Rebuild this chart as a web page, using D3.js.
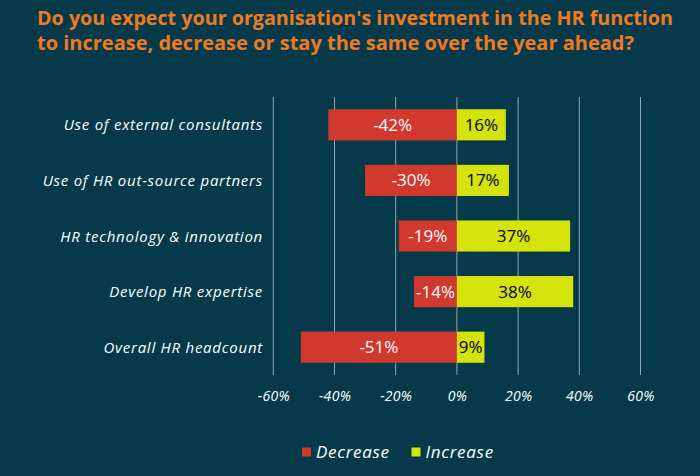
<!DOCTYPE html>
<html><head><meta charset="utf-8">
<script src="https://cdn.jsdelivr.net/npm/d3@7"></script>
<style>
html,body{margin:0;padding:0;background:#063a4b;}
svg{display:block;}
text{font-family:"Open Sans","Noto Sans",sans-serif;}
</style></head>
<body><svg id="c" width="700" height="476"></svg>
<script>
const titleLines = ["Do you expect your organisation's investment in the HR function",
                    "to increase, decrease or stay the same over the year ahead?"];
const categories = ["Use of external consultants","Use of HR out-source partners","HR technology & innovation","Develop HR expertise","Overall HR headcount"];
const decrease = [-42,-30,-19,-14,-51];
const increase = [16,17,37,38,9];
const tickValues = [-60,-40,-20,0,20,40,60];
const seriesNames = ["Decrease","Increase"];
const colors = ["#d2392e","#d5e20c"];

const svg = d3.select("#c");
const bg = "#063a4b";
svg.append("rect").attr("width",700).attr("height",476).attr("fill",bg);

// title
const tl = [636,597];
svg.selectAll(".title").data(titleLines).join("text")
  .attr("x",37).attr("y",(d,i)=>25+i*24.5)
  .attr("fill","#ee7a22").attr("font-weight","bold").attr("font-size",19)
  .attr("textLength",(d,i)=>tl[i]).attr("lengthAdjust","spacingAndGlyphs")
  .text(d=>d);

const x = d3.scaleLinear().domain([-60,60]).range([273.3,640.5]);
const y = d3.scaleBand().domain(categories).range([97,375]).paddingInner(0.44).paddingOuter(0.22);

// gridlines
svg.append("g").selectAll("line").data(tickValues).join("line")
  .attr("x1",d=>x(d)).attr("x2",d=>x(d)).attr("y1",97).attr("y2",375)
  .attr("stroke","#8fa9b3").attr("stroke-width",1);

// axis labels
const ax = svg.append("g").attr("transform","translate(0,401)")
  .call(d3.axisBottom(x).tickValues(tickValues).tickSize(0).tickFormat(d=>d+"%"));
ax.select(".domain").remove();
ax.selectAll("text").attr("dy",0).attr("y",0).attr("fill","#ffffff")
  .attr("font-size",14).attr("font-style","italic").attr("letter-spacing",0.3)
  .attr("font-family","'Open Sans','Noto Sans',sans-serif");

// category labels
svg.append("g").selectAll("text").data(categories).join("text")
  .attr("x",263).attr("y",d=>y(d)+y.bandwidth()/2+5.5)
  .attr("text-anchor","end").attr("fill","#ffffff").attr("font-style","italic")
  .attr("font-size",15).attr("letter-spacing",0.75).text(d=>d);

// bars
const rows = categories.map((c,i)=>({c, dec:decrease[i], inc:increase[i]}));
const g = svg.append("g");
g.selectAll(".dec").data(rows).join("rect")
  .attr("x",d=>x(d.dec)).attr("width",d=>x(0)-x(d.dec))
  .attr("y",d=>y(d.c)).attr("height",y.bandwidth()).attr("fill",colors[0]);
g.selectAll(".inc").data(rows).join("rect")
  .attr("x",x(0)).attr("width",d=>x(d.inc)-x(0))
  .attr("y",d=>y(d.c)).attr("height",y.bandwidth()).attr("fill",colors[1]);
g.selectAll(".decl").data(rows).join("text")
  .attr("x",d=>(x(d.dec)+x(0))/2).attr("y",d=>y(d.c)+y.bandwidth()/2+6)
  .attr("text-anchor","middle").attr("fill","#ffffff").attr("font-size",17)
  .text(d=>d.dec+"%");
g.selectAll(".incl").data(rows).join("text")
  .attr("x",d=>(x(d.inc)+x(0))/2).attr("y",d=>y(d.c)+y.bandwidth()/2+6)
  .attr("text-anchor","middle").attr("fill","#000000").attr("font-size",17)
  .text(d=>d.inc+"%");

// legend
const legX = [302,411.5];
const lg = svg.append("g");
seriesNames.forEach((s,i)=>{
  lg.append("rect").attr("x",legX[i]).attr("y",447.5).attr("width",9).attr("height",9).attr("fill",colors[i]);
  lg.append("text").attr("x",legX[i]+14).attr("y",458).attr("fill","#ffffff")
    .attr("font-style","italic").attr("font-size",17).attr("letter-spacing",0.7).text(s);
});
</script></body></html>
